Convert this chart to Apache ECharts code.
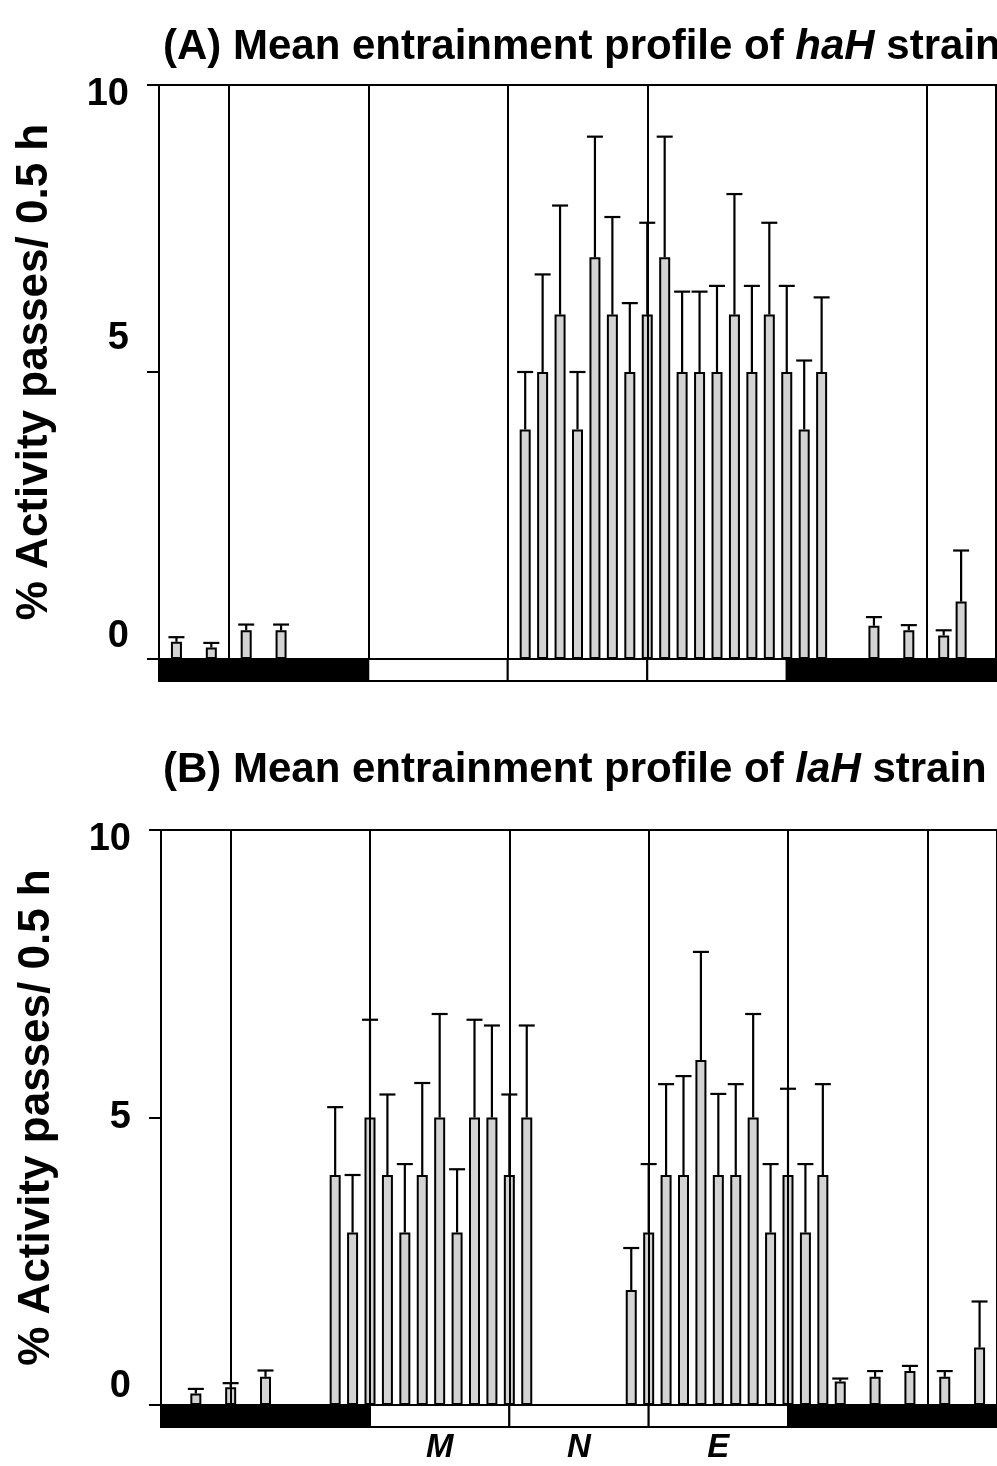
<!DOCTYPE html>
<html>
<head>
<meta charset="utf-8">
<script src="https://cdn.jsdelivr.net/npm/echarts@6/dist/echarts.min.js"></script>
<style>
  html, body { margin: 0; padding: 0; background: #fff; }
  #chart { width: 997px; height: 1466px; }
</style>
</head>
<body>
<div id="chart"></div>
<script>
// half-hour bins, 48 per day
let binMax = 48;
let yTicks = [0, 5, 10];

// (A) haH strain
let haX    = [1, 3, 5, 7, 21, 22, 23, 24, 25, 26, 27, 28, 29, 30, 31, 32, 33, 34, 35, 36, 37, 38, 41, 43, 45, 46];
let haMean = [0.3, 0.2, 0.5, 0.5, 4, 5, 6, 4, 7, 6, 5, 6, 7, 5, 5, 5, 6, 5, 6, 5, 4, 5, 0.58, 0.5, 0.41, 1.0];
let haSem  = [0.08, 0.08, 0.1, 0.1, 1.0, 1.7, 1.9, 1.0, 2.1, 1.7, 1.2, 1.6, 2.1, 1.4, 1.4, 1.5, 2.1, 1.5, 1.6, 1.5, 1.2, 1.3, 0.15, 0.09, 0.09, 0.89];
let haLines = [4, 12, 20, 28, 44];

// (B) laH strain
let laX    = [2, 4, 6, 10, 11, 12, 13, 14, 15, 16, 17, 18, 19, 20, 21, 27, 28, 29, 30, 31, 32, 33, 34, 35, 36, 37, 38, 39, 41, 43, 45, 47];
let laMean = [0.2, 0.31, 0.49, 4, 3, 5, 4, 3, 4, 5, 3, 5, 5, 4, 5, 2, 3, 4, 4, 6, 4, 4, 5, 3, 4, 3, 4, 0.41, 0.49, 0.59, 0.49, 1.0];
let laSem  = [0.08, 0.07, 0.11, 1.18, 1.0, 1.7, 1.4, 1.19, 1.6, 1.8, 1.1, 1.7, 1.6, 1.4, 1.6, 0.73, 1.19, 1.58, 1.72, 1.88, 1.41, 1.58, 1.8, 1.19, 1.5, 1.19, 1.58, 0.05, 0.1, 0.09, 0.1, 0.8];
let laLines = [4, 12, 20, 28, 36, 44];

// light/dark bar under the axis
let ldStart = [0, 12, 20, 28, 36];
let ldEnd   = [12, 20, 28, 36, 48];
let ldDark  = [1, 0, 0, 0, 1];
let phaseNames = ['M', 'N', 'E'];
let phaseMid   = [16, 24, 32];

let font = 'Liberation Sans';
let myChart = echarts.init(document.getElementById('chart'), null, {renderer: 'canvas'});

// shift tick labels like in the original figure (px, + is down)
function tickLabel(offsets) {
    let rich = {};
    for (let v in offsets) {
        let d = offsets[v];
        rich['t' + v] = {
            fontSize: 38, fontWeight: 'bold', fontFamily: font, color: '#000',
            padding: d > 0 ? [2 * d, 0, 0, 0] : [0, 0, -2 * d, 0]
        };
    }
    return {
        margin: 30,
        formatter: function (v) { return '{t' + v + '|' + v + '}'; },
        rich: rich
    };
}

function yAxis(gridIndex, offsets) {
    return {
        gridIndex: gridIndex, type: 'value', min: 0, max: 10, interval: 5,
        name: '% Activity passes/ 0.5 h', nameLocation: 'middle', nameGap: 102,
        nameTextStyle: {fontSize: 44, fontWeight: 'bold', fontFamily: font, color: '#000'},
        axisLine: {show: true, lineStyle: {color: '#000', width: 2}},
        axisTick: {show: true, length: 12, lineStyle: {color: '#000', width: 2}},
        axisLabel: tickLabel(offsets),
        splitLine: {show: false}
    };
}

function xAxis(gridIndex) {
    return {
        gridIndex: gridIndex, type: 'value', min: 0, max: binMax,
        axisLine: {show: true, onZero: false, lineStyle: {color: '#888', width: 1}},
        axisTick: {show: false}, axisLabel: {show: false}, splitLine: {show: false}
    };
}

function barSeries(idx, xs, means, lines) {
    return {
        type: 'bar', xAxisIndex: idx, yAxisIndex: idx, barWidth: 11,
        data: xs.map(function (x, i) { return [x, means[i]]; }),
        itemStyle: {color: '#d3d3d3', borderColor: '#000', borderWidth: 2},
        markLine: {
            silent: true, symbol: ['none', 'none'], label: {show: false},
            lineStyle: {color: '#000', width: 2, type: 'solid'},
            data: lines.map(function (v) { return {xAxis: v}; })
        }
    };
}

function errSeries(idx, xs, means, sems) {
    return {
        type: 'custom', xAxisIndex: idx, yAxisIndex: idx, z: 3,
        encode: {x: 0, y: [1, 2]},
        data: xs.map(function (x, i) { return [x, means[i], means[i] + sems[i]]; }),
        renderItem: function (params, api) {
            let lo = api.coord([api.value(0), api.value(1)]);
            let hi = api.coord([api.value(0), api.value(2)]);
            let style = {stroke: '#000', lineWidth: 2.2};
            return {
                type: 'group',
                children: [
                    {type: 'line', shape: {x1: lo[0], y1: lo[1], x2: hi[0], y2: hi[1]}, style: style},
                    {type: 'line', shape: {x1: hi[0] - 8, y1: hi[1], x2: hi[0] + 8, y2: hi[1]}, style: style}
                ]
            };
        }
    };
}

function ldSeries(idx) {
    return {
        type: 'custom', xAxisIndex: idx, yAxisIndex: idx, z: 5, clip: false,
        encode: {x: [0, 1]},
        data: ldStart.map(function (s, i) { return [s, ldEnd[i], ldDark[i]]; }),
        renderItem: function (params, api) {
            let p0 = api.coord([api.value(0), 0]);
            let p1 = api.coord([api.value(1), 0]);
            return {
                type: 'rect',
                shape: {x: p0[0], y: p0[1], width: p1[0] - p0[0], height: 22},
                style: {fill: api.value(2) ? '#000' : '#fff', stroke: '#000', lineWidth: 2}
            };
        }
    };
}

let option = {
    backgroundColor: '#fff',
    animation: false,
    title: [
        {
            text: '(A) Mean entrainment profile of {i|haH} strain', left: 158, top: 21,
            textStyle: {fontSize: 42, fontWeight: 'bold', fontFamily: font, color: '#000',
                rich: {i: {fontSize: 42, fontWeight: 'bold', fontStyle: 'italic', fontFamily: font, color: '#000'}}}
        },
        {
            text: '(B) Mean entrainment profile of {i|laH} strain', left: 158, top: 744,
            textStyle: {fontSize: 42, fontWeight: 'bold', fontFamily: font, color: '#000',
                rich: {i: {fontSize: 42, fontWeight: 'bold', fontStyle: 'italic', fontFamily: font, color: '#000'}}}
        }
    ],
    grid: [
        {left: 159, top: 85, width: 837, height: 574, show: true, borderColor: '#000', borderWidth: 2},
        {left: 161, top: 830, width: 837, height: 575, show: true, borderColor: '#000', borderWidth: 2}
    ],
    xAxis: [xAxis(0), xAxis(1)],
    yAxis: [yAxis(0, {0: -22, 5: -33, 10: 10}), yAxis(1, {0: -18, 5: 0, 10: 10})],
    series: [
        barSeries(0, haX, haMean, haLines),
        errSeries(0, haX, haMean, haSem),
        ldSeries(0),
        barSeries(1, laX, laMean, laLines),
        errSeries(1, laX, laMean, laSem),
        ldSeries(1),
        {
            type: 'custom', xAxisIndex: 1, yAxisIndex: 1, clip: false, z: 6,
            encode: {x: 0},
            data: phaseMid.map(function (m) { return [m]; }),
            renderItem: function (params, api) {
                let p = api.coord([api.value(0), 0]);
                return {
                    type: 'text', x: p[0], y: p[1] + 43,
                    style: {text: phaseNames[params.dataIndex], fontSize: 33, fontWeight: 'bold',
                        fontStyle: 'italic', fontFamily: font, fill: '#000', align: 'center', verticalAlign: 'middle'}
                };
            }
        }
    ]
};
myChart.setOption(option);
</script>
</body>
</html>
